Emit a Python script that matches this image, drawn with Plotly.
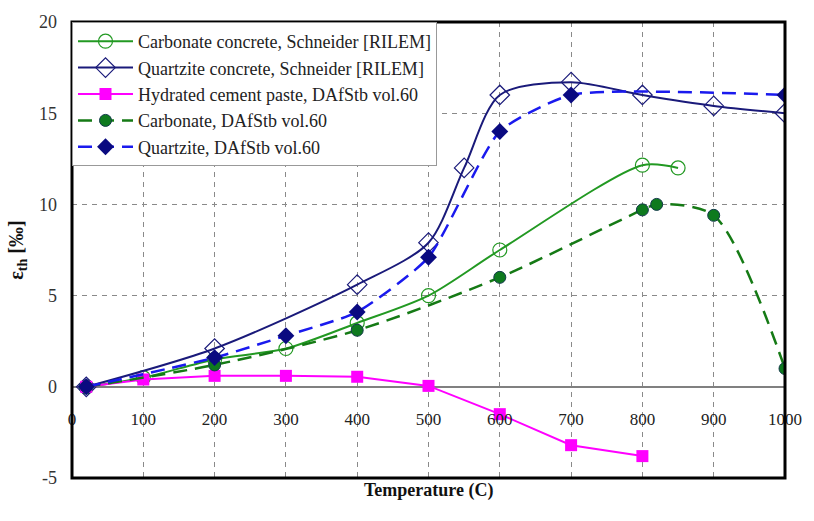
import plotly.graph_objects as go

# ---- data ----
carb_schneider_x = [20, 100, 200, 300, 400, 500, 600, 800, 850]
carb_schneider_y = [0.0, 0.5, 1.5, 2.1, 3.5, 5.0, 7.5, 12.15, 12.0]

quartz_schneider_x = [20, 200, 400, 500, 550, 600, 700, 800, 900, 1000]
quartz_schneider_y = [0.0, 2.1, 5.6, 7.9, 12.0, 16.0, 16.7, 16.0, 15.4, 15.0]

paste_x = [20, 100, 200, 300, 400, 500, 600, 700, 800]
paste_y = [0.0, 0.4, 0.6, 0.6, 0.55, 0.05, -1.5, -3.2, -3.8]

carb_dafstb_x = [20, 200, 400, 600, 800, 820, 900, 1000]
carb_dafstb_y = [0.0, 1.2, 3.1, 6.0, 9.7, 10.0, 9.4, 1.0]

quartz_dafstb_x = [20, 200, 300, 400, 500, 600, 700, 1000]
quartz_dafstb_y = [0.0, 1.6, 2.8, 4.1, 7.1, 14.0, 16.0, 16.0]

names = [
    "Carbonate concrete, Schneider [RILEM]",
    "Quartzite concrete, Schneider [RILEM]",
    "Hydrated cement paste, DAfStb vol.60",
    "Carbonate, DAfStb vol.60",
    "Quartzite, DAfStb vol.60",
]

x_ticks = list(range(0, 1001, 100))
y_ticks = [-5, 0, 5, 10, 15, 20]
y_tick_text = ["-5", "0", "5", "10", "15", "20"]

SERIF = "Liberation Serif, Times New Roman, serif"

fig = go.Figure()

fig.add_trace(go.Scatter(
    x=carb_schneider_x, y=carb_schneider_y, name=names[0],
    mode="lines+markers",
    line=dict(color="#229922", width=2, shape="spline", smoothing=0.8),
    marker=dict(symbol="circle-open", size=14, color="#229922", line=dict(width=1.2)),
))
fig.add_trace(go.Scatter(
    x=quartz_schneider_x, y=quartz_schneider_y, name=names[1],
    mode="lines+markers",
    line=dict(color="#1a1a7a", width=2, shape="spline", smoothing=0.8),
    marker=dict(symbol="diamond-open", size=15, color="#1a1a7a", line=dict(width=1.2)),
))
fig.add_trace(go.Scatter(
    x=paste_x, y=paste_y, name=names[2],
    mode="lines+markers",
    line=dict(color="#ff00ff", width=2),
    marker=dict(symbol="square", size=12, color="#ff00ff"),
))
fig.add_trace(go.Scatter(
    x=carb_dafstb_x, y=carb_dafstb_y, name=names[3],
    mode="lines+markers",
    line=dict(color="#157a15", width=2.5, dash="14px,8px", shape="spline", smoothing=0.8),
    marker=dict(symbol="circle", size=12, color="#0e7a1e", line=dict(color="#123a4a", width=1)),
))
fig.add_trace(go.Scatter(
    x=quartz_dafstb_x, y=quartz_dafstb_y, name=names[4],
    mode="lines+markers",
    line=dict(color="#1a1aee", width=2.5, dash="14px,8px", shape="spline", smoothing=0.55),
    marker=dict(symbol="diamond", size=13, color="#0a0a80"),
))

fig.update_layout(
    width=814, height=521,
    margin=dict(l=72, r=17, t=17, b=43),
    paper_bgcolor="white", plot_bgcolor="white",
    font=dict(family=SERIF, size=17, color="#222222"),
    showlegend=True,
    legend=dict(
        x=0, y=1, xanchor="left", yanchor="top",
        bgcolor="white", bordercolor="#999999", borderwidth=1,
        font=dict(family=SERIF, size=18, color="#222222"),
        tracegroupgap=0, itemwidth=55,
    ),
    xaxis=dict(
        range=[0, 1000], tickvals=x_ticks, ticktext=[str(v) for v in x_ticks],
        showgrid=True, gridcolor="#8a8a8a", gridwidth=1, griddash="5px,5px",
        zeroline=False, showline=False, ticks="",
        anchor="free", position=0.2, ticklabelstandoff=20,
        tickfont=dict(family=SERIF, size=17, color="#222222"),
    ),
    yaxis=dict(
        range=[-5, 20], tickvals=y_ticks, ticktext=y_tick_text,
        showgrid=True, gridcolor="#8a8a8a", gridwidth=1, griddash="5px,5px",
        zeroline=True, zerolinecolor="#808080", zerolinewidth=1.5,
        showline=False, ticks="", ticklabelstandoff=14,
        tickfont=dict(family=SERIF, size=18, color="#333333"),
        title=dict(text="<b>ε<sub>th</sub> [‰]</b>", standoff=10,
                   font=dict(family=SERIF, size=20, color="#111111")),
    ),
    shapes=[dict(type="rect", xref="paper", yref="paper", x0=0, x1=1, y0=0, y1=1,
                 line=dict(color="black", width=3), layer="above")],
    annotations=[dict(text="<b>Temperature (C)</b>", xref="paper", yref="paper",
                      x=0.5, y=0, yanchor="top", yshift=0, showarrow=False,
                      font=dict(family=SERIF, size=18, color="#111111"))],
)

fig.write_html("out.html")
